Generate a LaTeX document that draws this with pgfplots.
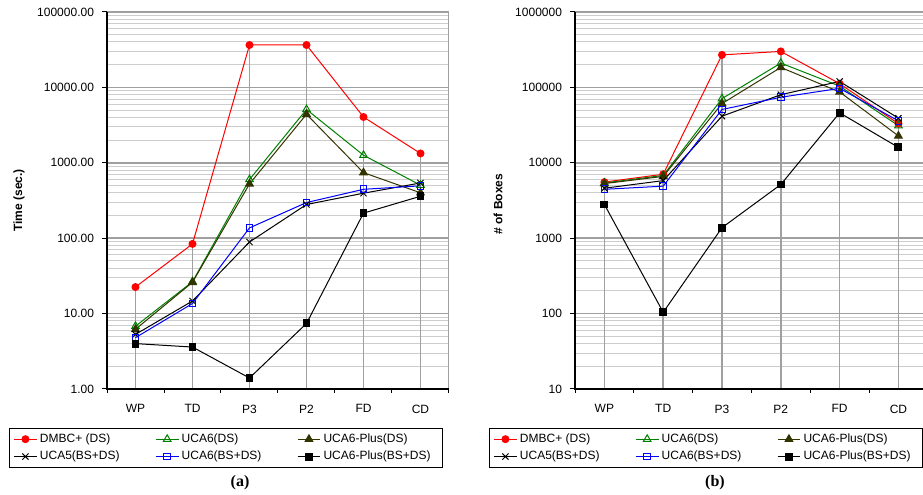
\documentclass[border=0pt]{standalone}
\usepackage{pgfplots}
\pgfplotsset{compat=1.18}
\usepackage{fontspec}
\setmainfont{Liberation Sans}
\newfontfamily\capfont{Liberation Serif}
\definecolor{gmaj}{HTML}{A0A0A0}
\definecolor{gmin}{HTML}{CDCDCD}
\definecolor{dropc}{HTML}{A0A0A0}
\definecolor{cgreen}{HTML}{008000}
\definecolor{colive}{HTML}{333300}
\pgfplotsset{
  every axis/.append style={
    scale only axis, height=282.75pt,
    xmin=-0.5,
    xtick={0,...,5}, xticklabels={WP,TD,P3,P2,FD,CD},
    minor xtick={-0.5,0.5,...,5.5},
    xtick pos=bottom, ytick pos=left,
    tick align=outside, major tick length=3.75pt, minor tick length=3pt,
    major x tick style={draw=none},
    minor y tick style={draw=none},
    ymajorgrids, yminorgrids,
    major grid style={draw=gmaj, line width=1.1pt},
    minor grid style={draw=gmin, line width=0.75pt},
    axis line style={draw=gmaj, line width=0.75pt},
    tick style={black, line width=0.75pt},
    tick label style={font=\fontsize{9}{10}\selectfont},
    xticklabel style={yshift=-4.5pt},
    yticklabel style={xshift=-2.5pt},
    ylabel style={font=\bfseries\fontsize{9}{10}\selectfont, anchor=center},
    legend columns=3,
    legend cell align=left,
    legend style={anchor=north west, draw=black, line width=0.8pt,
      font=\fontsize{9}{10}\selectfont, inner xsep=3pt, inner ysep=2pt,
      /tikz/every even column/.append style={column sep=0pt}, row sep=1pt},
  },
}
\newcommand{\legtxt}[1]{\makebox[84.5pt][l]{#1}}
\begin{document}
\begin{tikzpicture}[x=0.75pt,y=0.75pt]
\path[use as bounding box] (0,0) rectangle (923,495);
% ---------- (a) ----------
\begin{axis}[ymode=log, at={(80.25pt,79.5pt)}, anchor=south west, width=256.5pt,
  xmax=5.5, ymin=1, ymax=100000,
  ytick={1,10,100,1000,10000,100000},
  yticklabels={1.00,10.00,100.00,1000.00,10000.00,100000.00},
  ylabel={Time (sec.)},
  ylabel style={at={(axis description cs:-0.257,0.5)}},
  legend style={at={(-0.2865,-0.1034)}},
]
\addplot[ycomb, draw=dropc, line width=1.1pt, forget plot, mark=none] coordinates {(0,22.5) (1,84) (2,36500) (3,36500) (4,4050) (5,1330)};
\addplot[color=red, line width=0.75pt, mark=*, mark size=2.6pt, mark options={solid}] coordinates {(0,22.5) (1,84) (2,36500) (3,36500) (4,4050) (5,1330)};
\addlegendentry{\legtxt{DMBC+ (DS)}}
\addplot[color=cgreen, line width=0.75pt, mark=triangle, mark size=3.3pt, mark options={solid, fill=white}] coordinates {(0,6.8) (1,26.5) (2,600) (3,5100) (4,1260) (5,505)};
\addlegendentry{\legtxt{UCA6(DS)}}
\addplot[color=colive, line width=0.75pt, mark=triangle*, mark size=3.3pt, mark options={solid}] coordinates {(0,6.2) (1,26) (2,525) (3,4400) (4,740) (5,400)};
\addlegendentry{\legtxt{UCA6-Plus(DS)}}
\addplot[color=black, line width=0.75pt, mark=x, mark size=3.3pt, mark options={solid}] coordinates {(0,5.3) (1,14.7) (2,89) (3,280) (4,395) (5,540)};
\addlegendentry{\legtxt{UCA5(BS+DS)}}
\addplot[color=blue, line width=0.75pt, mark=square, mark size=2.5pt, mark options={solid, fill=white}] coordinates {(0,4.8) (1,13.6) (2,137) (3,297) (4,445) (5,495)};
\addlegendentry{\legtxt{UCA6(BS+DS)}}
\addplot[color=black, line width=0.75pt, mark=square*, mark size=2.6pt, mark options={solid}] coordinates {(0,4.0) (1,3.6) (2,1.40) (3,7.4) (4,215) (5,360)};
\addlegendentry{\legtxt{UCA6-Plus(BS+DS)}}
\end{axis}
\draw[black,line width=1.1pt] (107,483) -- (107,106) -- (449,106);
% ---------- (b) ----------
\begin{axis}[ymode=log, at={(431.25pt,79.5pt)}, anchor=south west, width=262.5pt,
  xmax=5.452, ymin=10, ymax=1000000,
  ytick={10,100,1000,10000,100000,1000000},
  yticklabels={10,100,1000,10000,100000,1000000},
  ylabel={\# of Boxes},
  ylabel style={at={(axis description cs:-0.22,0.49)}},
  legend style={at={(-0.2457,-0.1034)}},
]
\addplot[ycomb, draw=dropc, line width=1.1pt, forget plot, mark=none] coordinates {(0,5550) (1,7050) (2,270000) (3,300000) (4,120000) (5,39000)};
\addplot[color=red, line width=0.75pt, mark=*, mark size=2.6pt, mark options={solid}] coordinates {(0,5550) (1,7050) (2,270000) (3,300000) (4,112000) (5,33000)};
\addlegendentry{\legtxt{DMBC+ (DS)}}
\addplot[color=cgreen, line width=0.75pt, mark=triangle, mark size=3.3pt, mark options={solid, fill=white}] coordinates {(0,5400) (1,6800) (2,71000) (3,210000) (4,104000) (5,31000)};
\addlegendentry{\legtxt{UCA6(DS)}}
\addplot[color=colive, line width=0.75pt, mark=triangle*, mark size=3.3pt, mark options={solid}] coordinates {(0,5300) (1,6600) (2,61000) (3,184000) (4,87000) (5,22700)};
\addlegendentry{\legtxt{UCA6-Plus(DS)}}
\addplot[color=black, line width=0.75pt, mark=x, mark size=3.3pt, mark options={solid}] coordinates {(0,4600) (1,5800) (2,41500) (3,80000) (4,120000) (5,39000)};
\addlegendentry{\legtxt{UCA5(BS+DS)}}
\addplot[color=blue, line width=0.75pt, mark=square, mark size=2.5pt, mark options={solid, fill=white}] coordinates {(0,4450) (1,4900) (2,51000) (3,74000) (4,97000) (5,36000)};
\addlegendentry{\legtxt{UCA6(BS+DS)}}
\addplot[color=black, line width=0.75pt, mark=square*, mark size=2.6pt, mark options={solid}] coordinates {(0,2800) (1,104) (2,1380) (3,5150) (4,46000) (5,16000)};
\addlegendentry{\legtxt{UCA6-Plus(BS+DS)}}
\end{axis}
\draw[black,line width=1.1pt] (575,483) -- (575,106) -- (930,106);
\node[font=\capfont\bfseries\fontsize{12}{14}\selectfont] at (240,12) {(a)};
\node[font=\capfont\bfseries\fontsize{12}{14}\selectfont] at (715,12) {(b)};
\end{tikzpicture}
\end{document}
